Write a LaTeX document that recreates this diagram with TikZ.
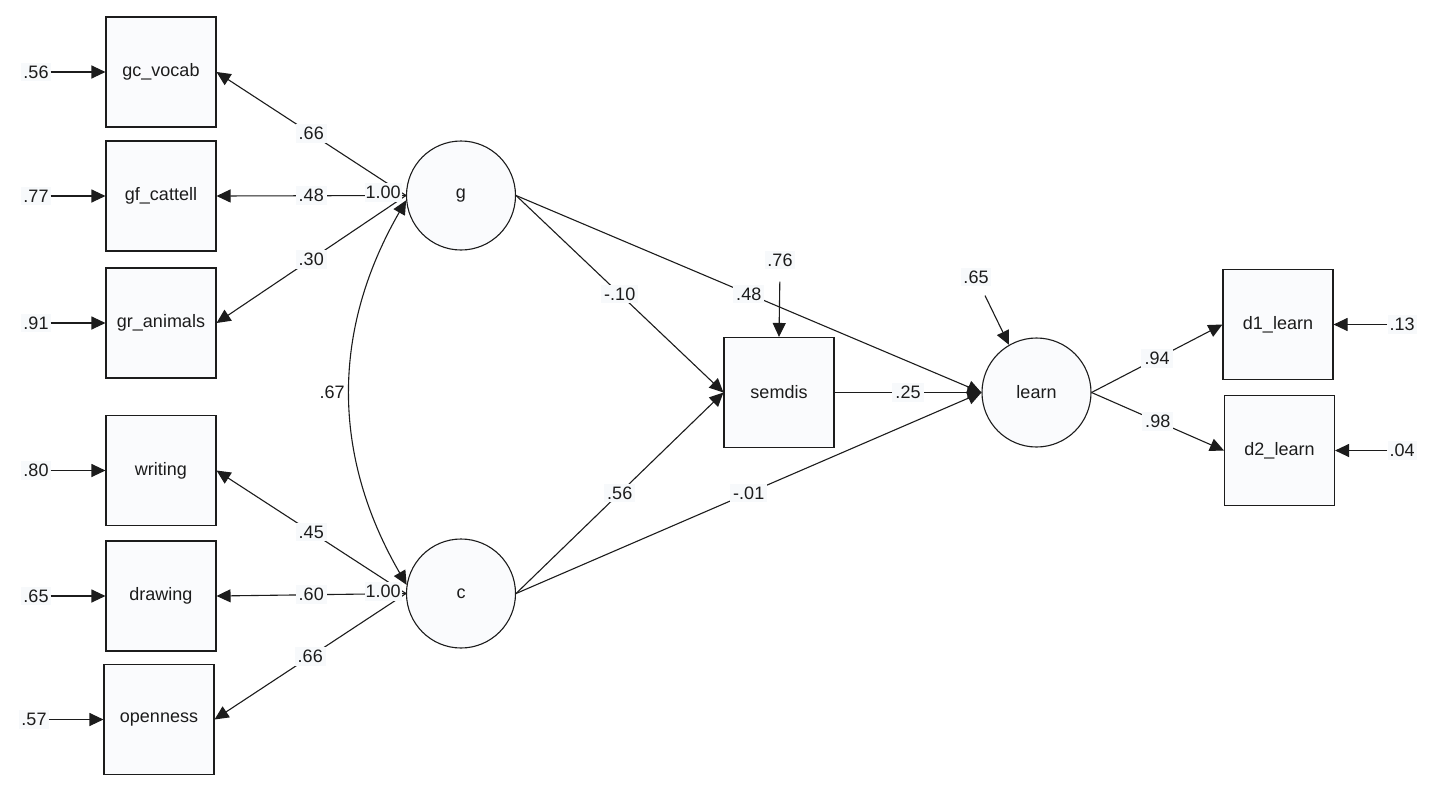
\documentclass[tikz,border=0pt]{standalone}
\usepackage{fontspec}
\setmainfont{Liberation Sans}
\usetikzlibrary{arrows.meta}
\definecolor{boxfill}{RGB}{250,251,253}
\definecolor{lblfill}{RGB}{247,249,251}
\definecolor{ink}{RGB}{28,28,28}
\begin{document}
\begin{tikzpicture}[x=1pt,y=-1pt,
  font=\fontsize{18}{21}\selectfont, text=ink,
  obs/.style={draw=ink, line width=1.1pt, fill=boxfill, minimum width=110pt, minimum height=110pt, inner sep=0pt},
  lat/.style={circle, draw=ink, line width=1.1pt, fill=boxfill, minimum size=109pt, inner sep=0pt},
  lbl/.style={fill=lblfill, inner xsep=3pt, inner ysep=3pt},
  errlbl/.style={fill=lblfill, inner xsep=2pt, inner ysep=3pt},
  arr/.style={draw=ink, line width=1.1pt, -{Triangle[length=14pt,width=13pt]}},
  darr/.style={draw=ink, line width=1.1pt, {Triangle[length=14pt,width=13pt]}-{Triangle[length=14pt,width=13pt]}}
]
\useasboundingbox (0,0) rectangle (1444,790);
\fill[white] (0,0) rectangle (1444,790);

% observed indicators (left)
\node[obs] (gcv) at (161,72) {gc\_vocab};
\node[obs] (gfc) at (161,196) {gf\_cattell};
\node[obs] (gra) at (161,323) {gr\_animals};
\node[obs] (wri) at (161,470.5) {writing};
\node[obs] (dra) at (161,596) {drawing};
\node[obs] (ope) at (159,719.5) {openness};

% latent
\node[lat] (g) at (461,195.5) {g};
\node[lat] (c) at (461,593.5) {c};
\node[obs] (sem) at (779,392.5) {semdis};
\node[lat] (learn) at (1036.5,392.5) {learn};
\node[obs] (d1) at (1278,324.5) {d1\_learn};
\node[obs] (d2) at (1279.5,450.5) {d2\_learn};

% error labels left
\node[errlbl] (e1) at (36,72) {.56};
\node[errlbl] (e2) at (36,196) {.77};
\node[errlbl] (e3) at (36,323) {.91};
\node[errlbl] (e4) at (36,470.5) {.80};
\node[errlbl] (e5) at (36,596) {.65};
\node[errlbl] (e6) at (34,719.5) {.57};
\foreach \e/\b in {e1/gcv,e2/gfc,e3/gra,e4/wri,e5/dra,e6/ope}
  \draw[arr] (\e.east) -- (\b.west);

% error labels right
\node[errlbl] (e7) at (1402,324.5) {.13};
\node[errlbl] (e8) at (1402,450.5) {.04};
\draw[arr] (e7.west) -- (d1.east);
\draw[arr] (e8.west) -- (d2.east);

% residuals
\node[errlbl] (rs) at (780,260) {.76};
\draw[arr, shorten <=12pt] (rs.south) -- (sem.north);
\node[errlbl] (rl) at (976,277) {.65};
\draw[arr, shorten <=10pt] (rl) -- (learn.120);

% loadings
\draw[arr] (g.west) -- node[lbl,pos=.5]{.66} (gcv.east);
\draw[arr] (g.west) -- node[lbl,pos=.5]{.48} (gfc.east);
\draw[arr] (g.west) -- node[lbl,pos=.5]{.30} (gra.east);
\draw[arr] (c.west) -- node[lbl,pos=.5]{.45} (wri.east);
\draw[arr] (c.west) -- node[lbl,pos=.5]{.60} (dra.east);
\draw[arr] (c.west) -- node[lbl,pos=.5]{.66} (ope.east);

% covariance
\draw[darr] (g.185) to[bend right=30] node[pos=.5, anchor=east, xshift=-3pt, inner sep=2pt]{.67} (c.171);

% variances of latents
\node[errlbl, anchor=east, inner xsep=1pt] (vg) at ([xshift=-4pt,yshift=3pt]g.west) {1.00};
\node[errlbl, anchor=east, inner xsep=1pt] (vc) at ([xshift=-4pt,yshift=2pt]c.west) {1.00};

% structural paths
\draw[arr] (g.east) -- node[lbl,pos=.5]{-.10} (sem.west);
\draw[arr] (g.east) -- node[lbl,pos=.5]{.48} (learn.west);
\draw[arr] (c.east) -- node[lbl,pos=.5]{.56} (sem.west);
\draw[arr] (c.east) -- node[lbl,pos=.5]{-.01} (learn.west);
\draw[arr] (sem.east) -- node[lbl,pos=.5]{.25} (learn.west);
\draw[arr] (learn.east) -- node[lbl,pos=.5]{.94} (d1.west);
\draw[arr] (learn.east) -- node[lbl,pos=.5]{.98} (d2.west);
\end{tikzpicture}
\end{document}
